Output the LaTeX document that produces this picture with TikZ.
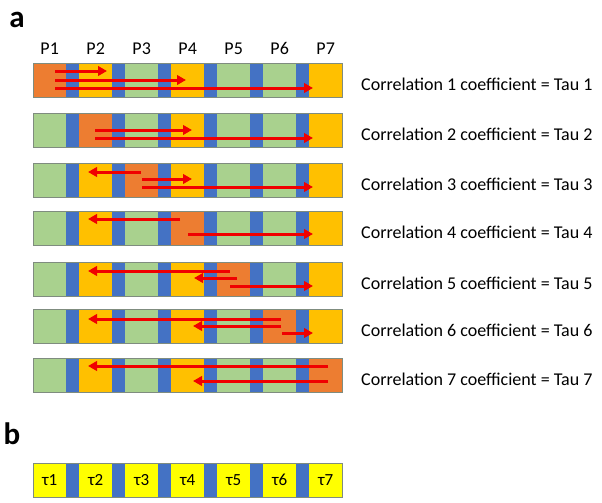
\documentclass[tikz,border=0pt]{standalone}
\usepackage{fontspec}
\setmainfont{Carlito}
\usetikzlibrary{arrows.meta,positioning}
\definecolor{cellorange}{HTML}{ED7D31}
\definecolor{cellblue}{HTML}{4472C4}
\definecolor{cellgreen}{HTML}{A9D18E}
\definecolor{cellgold}{HTML}{FFC000}
\definecolor{cellyellow}{HTML}{FFFF00}
\definecolor{arrred}{HTML}{F00000}
\definecolor{barline}{HTML}{7F8C7F}
\begin{document}
\begin{tikzpicture}[x=1pt,y=-1pt,
  cell/.style={minimum width=33pt,minimum height=34pt,inner sep=0pt,anchor=north west},
  arr/.style={draw=arrred,line width=3pt,-{Triangle[length=9pt,width=9.5pt]}},
  lbl/.style={font=\fontsize{18}{20}\selectfont,anchor=west,inner sep=0pt},
  plbl/.style={font=\fontsize{18}{20}\selectfont,inner sep=0pt},
  panel/.style={font=\bfseries\fontsize{31}{33}\selectfont,inner sep=0pt}]
  \useasboundingbox (0,0) rectangle (602,503);
  \def\pw{46}

  \node[panel] (pa) at (17,20) {a};
  \node[panel] (pb) at (12,434) {b};

  % one bar per correlation, P\k in orange
  \foreach \k/\top in {1/63,2/113,3/163,4/211,5/262,6/309,7/358}{
    \fill[cellblue] (33,\top) rectangle (342,\top+34);
    \foreach \j in {1,...,7}{
      \pgfmathsetmacro\cx{33+(\j-1)*\pw}
      \edef\cc{\ifnum\j=\k cellorange\else\ifnum\j=2 cellgold\else
        \ifnum\j=4 cellgold\else\ifnum\j=7 cellgold\else cellgreen\fi\fi\fi\fi}
      \node[cell,fill=\cc] (r\k-\j) at (\cx,\top) {};
    }
    \draw[barline,line width=0.8pt] (r\k-1.north west) rectangle (r\k-7.south east);
    \node[lbl] (c\k) at (361,\top+21) {Correlation \k{} coefficient = Tau \k};
  }
  \foreach \j in {1,...,7}
    \node[plbl,above=8pt of r1-\j] (p\j) {P\j};

  % row / from cell / shift / to cell / shift / height
  \foreach \k/\s/\sx/\d/\dx/\dy in {1/1/22/2/28/8, 1/1/22/4/15/17, 1/1/22/7/4/25,
      2/2/16/4/21/17, 2/2/16/7/4/25,
      3/3/16/2/9/9, 3/3/17/4/21/16, 3/3/17/7/4/24,
      4/4/9/2/9/8, 4/4/17/7/4/23,
      5/5/13/2/9/9, 5/5/20/4/23/16, 5/5/13/7/4/24,
      6/6/18/2/9/10, 6/6/18/4/22/17, 6/6/19/7/4/24,
      7/7/19/2/9/8, 7/7/19/4/22/23}
    \draw[arr] ([shift={(\sx,\dy)}]r\k-\s.north west) -- ([shift={(\dx,\dy)}]r\k-\d.north west);

  % tau values
  \fill[cellblue] (33,463) rectangle (342,497);
  \foreach \j in {1,...,7}{
    \pgfmathsetmacro\cx{33+(\j-1)*\pw}
    \node[cell,fill=cellyellow,font=\fontsize{17}{19}\selectfont] (t\j) at (\cx,463) {τ\j};
  }
  \draw[barline,line width=0.8pt] (t1.north west) rectangle (t7.south east);
\end{tikzpicture}
\end{document}
